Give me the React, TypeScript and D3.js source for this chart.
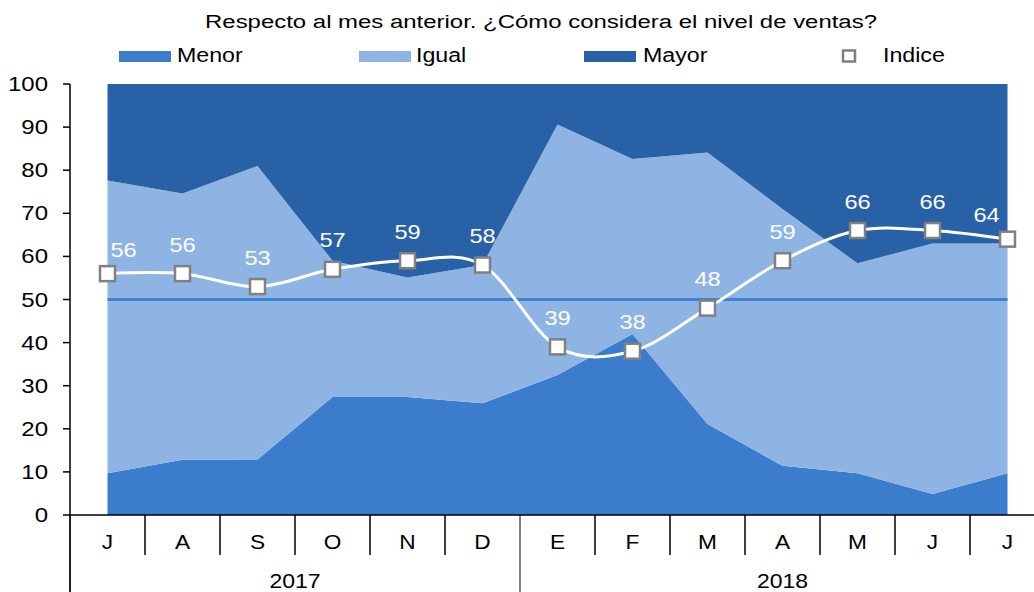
import * as d3 from 'd3';

// months shown under the axis, and the year groups they belong to
const months = ['J', 'A', 'S', 'O', 'N', 'D', 'E', 'F', 'M', 'A', 'M', 'J', 'J'];
const years = ['2017', '2018'];
const yearMonths = [6, 7];

// shares of answers (%), stacked bottom to top
const menor = [9.7, 12.8, 12.9, 27.4, 27.4, 25.9, 32.5, 42, 21.1, 11.4, 9.7, 4.9, 9.7];
const igual = [67.9, 61.8, 68.1, 31.6, 27.7, 32.1, 58.1, 40.6, 63, 59.6, 48.7, 58.1, 53.3];
const mayor = [22.4, 25.4, 19, 41, 44.9, 42, 9.4, 17.4, 15.9, 29, 41.6, 37, 37];

// diffusion index
const indice = [56, 56, 53, 57, 59, 58, 39, 38, 48, 59, 66, 66, 64];

const yTicks = [0, 10, 20, 30, 40, 50, 60, 70, 80, 90, 100];
const reference = 50;

const series = [
  { key: 'menor', label: 'Menor', color: '#3b7dcc' },
  { key: 'igual', label: 'Igual', color: '#8eb4e3' },
  { key: 'mayor', label: 'Mayor', color: '#2861a5' },
];

const W = 1034;
const H = 592;
const left = 70;
const right = 1045;
const top = 84;
const bottom = 515;
const font = 'Arial, "Liberation Sans", sans-serif';

// Excel text in the picture is wider than plain Arial, so stretch it
const T = ({ x, y, size, sx, anchor = 'middle', fill = '#000', children }: any) => (
  <text
    transform={`translate(${x},${y}) scale(${sx},1)`}
    fontSize={size}
    textAnchor={anchor}
    fill={fill}
    fontFamily={font}
  >
    {children}
  </text>
);

export default function App() {
  const x = d3.scaleBand<number>().domain(months.map((_, i) => i)).range([left, right]);
  const cx = (i: number) => (x(i) as number) + x.bandwidth() / 2;
  const y = d3.scaleLinear().domain([0, 100]).range([bottom, top]);

  const rows = months.map((_, i) => ({ i, menor: menor[i], igual: igual[i], mayor: mayor[i] }));
  const stacked = d3.stack<any>().keys(series.map(s => s.key))(rows);
  const area = d3.area<any>()
    .x(d => cx(d.data.i))
    .y0(d => y(d[0]))
    .y1(d => y(d[1]));

  const line = d3.line<number>()
    .x((_, i) => cx(i))
    .y(d => y(d))
    .curve(d3.curveCardinal.tension(0));

  const n = months.length;
  const bw = x.bandwidth();

  // band edges for the month separators; year edges run down further
  const edges = d3.range(n + 1).map(i => left + i * bw);
  const yearEdges = [0, ...d3.cumsum(yearMonths)];

  const legendX = [119, 359, 584];
  const legendTextX = [177, 416, 643];

  return (
    <div style={{ position: 'absolute', left: 0, top: 0 }}>
      <svg width={W} height={H} style={{ display: 'block', background: '#fff' }}>
        <T x={541} y={28} size={19} sx={1.26}>
          Respecto al mes anterior. ¿Cómo considera el nivel de ventas?
        </T>

        {/* legend */}
        {series.map((s, k) => (
          <g key={s.key}>
            <rect x={legendX[k]} y={51} width={52} height={11} fill={s.color} />
            <T x={legendTextX[k]} y={62} size={20} sx={1.16} anchor="start">{s.label}</T>
          </g>
        ))}
        <rect x={843} y={50.5} width={12} height={11} fill="#fff" stroke="#808080" strokeWidth={2.5} />
        <T x={883} y={62} size={20} sx={1.16} anchor="start">Indice</T>

        {/* stacked areas */}
        {stacked.map((layer, k) => (
          <path key={series[k].key} d={area(layer) || ''} fill={series[k].color} />
        ))}

        {/* 50 reference */}
        <line x1={cx(0)} x2={cx(n - 1)} y1={y(reference)} y2={y(reference)} stroke="#3e80d2" strokeWidth={3} />

        {/* index line */}
        <path d={line(indice) || ''} fill="none" stroke="#fff" strokeWidth={3} />
        {indice.map((v, i) => (
          <rect key={i} x={cx(i) - 7.5} y={y(v) - 7.5} width={15} height={15} fill="#fff" stroke="#808080" strokeWidth={2.5} />
        ))}
        {indice.map((v, i) => {
          const first = i === 0;
          const last = i === n - 1;
          const dx = first ? 16 : last ? -21 : 0;
          const dy = first || last ? -17 : -22;
          return (
            <T key={i} x={cx(i) + dx} y={y(v) + dy} size={20} sx={1.18} fill="#fff">{v}</T>
          );
        })}

        {/* y axis */}
        <line x1={left} x2={left} y1={top} y2={H} stroke="#000" strokeWidth={1.5} />
        {yTicks.map(t => (
          <g key={t}>
            <line x1={left - 7} x2={left} y1={y(t)} y2={y(t)} stroke="#000" strokeWidth={1.5} />
            <T x={48} y={y(t) + 7} size={20} sx={1.2} anchor="end">{t}</T>
          </g>
        ))}

        {/* x axis */}
        <line x1={left} x2={right} y1={bottom} y2={bottom} stroke="#000" strokeWidth={1.5} />
        {edges.map((ex, i) => (
          <line
            key={i}
            x1={ex}
            x2={ex}
            y1={bottom}
            y2={yearEdges.includes(i) ? H : 555}
            stroke="#000"
            strokeWidth={yearEdges.includes(i) ? 1 : 1.5}
          />
        ))}
        {months.map((m, i) => (
          <T key={i} x={cx(i)} y={549} size={21} sx={1.08}>{m}</T>
        ))}
        {years.map((yr, k) => {
          const a = left + yearEdges[k] * bw;
          const b = left + yearEdges[k + 1] * bw;
          return <T key={yr} x={(a + b) / 2} y={588} size={20} sx={1.15}>{yr}</T>;
        })}
      </svg>
    </div>
  );
}
